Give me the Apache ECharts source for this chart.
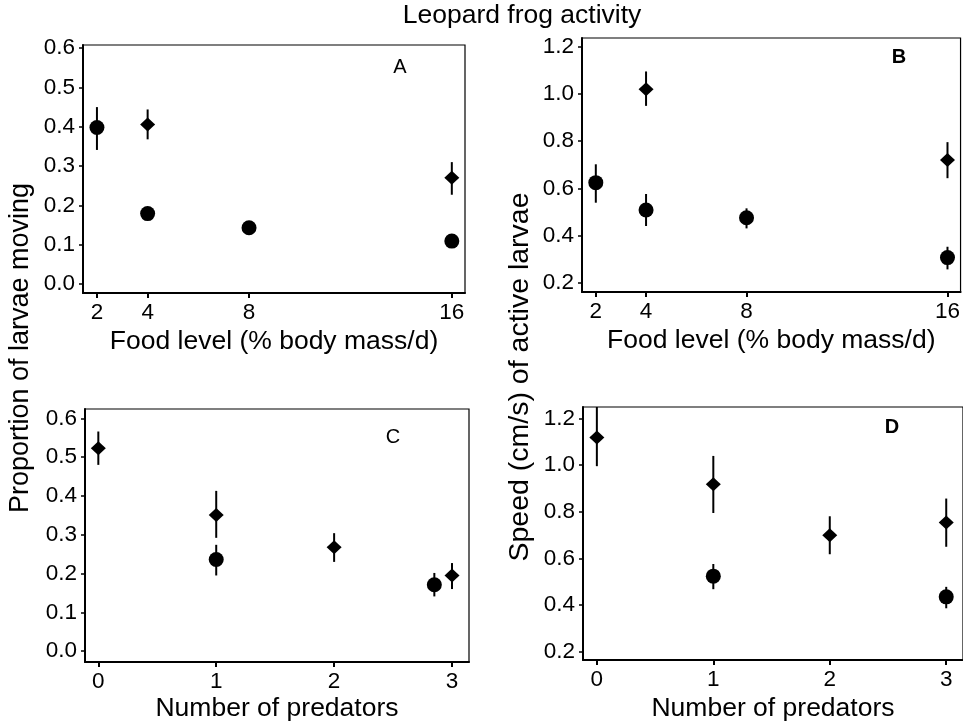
<!DOCTYPE html>
<html>
<head>
<meta charset="utf-8">
<script src="https://cdn.jsdelivr.net/npm/echarts@6/dist/echarts.min.js"></script>
<style>html,body{margin:0;padding:0;background:#fff}#chart{width:963px;height:723px}</style>
</head>
<body>
<div id="chart"></div>
<script>
// ---- Data ----
const foodTicks = [2, 4, 8, 16];
const predTicks = [0, 1, 2, 3];
const yTicksAC = [0, 0.1, 0.2, 0.3, 0.4, 0.5, 0.6];
const yTicksBD = [0.2, 0.4, 0.6, 0.8, 1.0, 1.2];

// Panel A: proportion of larvae moving vs food level
const A_circleX = [2, 4, 8, 16];
const A_circleY = [0.398, 0.179, 0.143, 0.109];
const A_circleLo = [0.341, 0.172, 0.137, 0.103];
const A_circleHi = [0.450, 0.186, 0.149, 0.115];
const A_diamondX = [4, 16];
const A_diamondY = [0.406, 0.270];
const A_diamondLo = [0.368, 0.227];
const A_diamondHi = [0.444, 0.310];

// Panel B: speed vs food level
const B_circleX = [2, 4, 8, 16];
const B_circleY = [0.624, 0.508, 0.475, 0.306];
const B_circleLo = [0.539, 0.440, 0.430, 0.256];
const B_circleHi = [0.702, 0.576, 0.515, 0.352];
const B_diamondX = [4, 16];
const B_diamondY = [1.021, 0.720];
const B_diamondLo = [0.950, 0.643];
const B_diamondHi = [1.096, 0.796];

// Panel C: proportion moving vs number of predators
const C_circleX = [1, 2.85];
const C_circleY = [0.236, 0.171];
const C_circleLo = [0.195, 0.141];
const C_circleHi = [0.274, 0.2015];
const C_diamondX = [0, 1, 2, 3];
const C_diamondY = [0.523, 0.351, 0.268, 0.195];
const C_diamondLo = [0.480, 0.292, 0.230, 0.160];
const C_diamondHi = [0.566, 0.413, 0.304, 0.227];

// Panel D: speed vs number of predators
const D_circleX = [1, 3];
const D_circleY = [0.524, 0.435];
const D_circleLo = [0.468, 0.386];
const D_circleHi = [0.576, 0.478];
const D_diamondX = [0, 1, 2, 3];
const D_diamondY = [1.119, 0.918, 0.700, 0.754];
const D_diamondLo = [0.996, 0.795, 0.618, 0.650];
const D_diamondHi = [1.250, 1.040, 0.781, 0.857];

const titleText = 'Leopard frog activity';
const yNameLeft = 'Proportion of larvae moving';
const yNameRight = 'Speed (cm/s) of active larvae';
const xNameFood = 'Food level (% body mass/d)';
const xNamePred = 'Number of predators';
const panelLetters = ['A', 'B', 'C', 'D'];

// ---- Build ----
const FONT = '"Liberation Sans", Arial, sans-serif';
const pts = (xs, ys) => xs.map((x, i) => [x, ys[i]]);
const errs = (xs, lo, hi) => xs.map((x, i) => [x, lo[i], hi[i]]);

const grids = [
  {left: 83, top: 45, width: 382, height: 248},
  {left: 582, top: 38, width: 381, height: 254},
  {left: 85, top: 409, width: 384, height: 254},
  {left: 583, top: 407, width: 385, height: 253}
].map(g => Object.assign(g, {show: true, borderColor: '#000', borderWidth: 1.2, containLabel: false}));

function xAxis(gi, min, max, ticks, name, gap) {
  return {
    gridIndex: gi, type: 'value', min: min, max: max,
    name: name, nameLocation: 'middle', nameGap: gap,
    nameTextStyle: {fontFamily: FONT, fontSize: 26.5, color: '#000'},
    axisLine: {show: true, onZero: false, lineStyle: {color: '#000', width: 2}},
    axisTick: {show: true, length: 5, customValues: ticks, lineStyle: {color: '#000', width: 2}},
    axisLabel: {customValues: ticks, margin: 8, fontFamily: FONT, fontSize: 22.5, color: '#000'},
    splitLine: {show: false}
  };
}
function yAxis(gi, min, max, ticks) {
  return {
    gridIndex: gi, type: 'value', min: min, max: max,
    axisLine: {show: true, onZero: false, lineStyle: {color: '#000', width: 2}},
    axisTick: {show: true, length: 4, customValues: ticks, lineStyle: {color: '#000', width: 1.5}},
    axisLabel: {customValues: ticks, margin: 8, fontFamily: FONT, fontSize: 22.5, color: '#000',
      formatter: v => v.toFixed(1)},
    splitLine: {show: false}
  };
}

function errSeries(i, data) {
  return {
    type: 'custom', xAxisIndex: i, yAxisIndex: i, data: data, z: 2, silent: true,
    renderItem: function (params, api) {
      const p1 = api.coord([api.value(0), api.value(1)]);
      const p2 = api.coord([api.value(0), api.value(2)]);
      return {type: 'line', shape: {x1: p1[0], y1: p1[1], x2: p2[0], y2: p2[1]},
        style: {stroke: '#000', lineWidth: 2}};
    }
  };
}
function scat(i, data, sym) {
  return {
    type: 'scatter', xAxisIndex: i, yAxisIndex: i, data: data, z: 3, silent: true,
    symbol: sym, symbolSize: sym === 'circle' ? 15 : [15, 14],
    itemStyle: {color: '#000', opacity: 1}
  };
}

const option = {
  backgroundColor: '#fff',
  animation: false,
  grid: grids,
  xAxis: [
    xAxis(0, 1.45, 16.52, foodTicks, xNameFood, 35),
    xAxis(1, 1.45, 16.52, foodTicks, xNameFood, 35),
    xAxis(2, -0.113, 3.144, predTicks, xNamePred, 33),
    xAxis(3, -0.119, 3.144, predTicks, xNamePred, 35)
  ],
  yAxis: [
    yAxis(0, -0.023, 0.608, yTicksAC),
    yAxis(1, 0.16, 1.238, yTicksBD),
    yAxis(2, -0.028, 0.624, yTicksAC),
    yAxis(3, 0.164, 1.25, yTicksBD)
  ],
  series: [
    errSeries(0, errs(A_circleX, A_circleLo, A_circleHi)),
    errSeries(0, errs(A_diamondX, A_diamondLo, A_diamondHi)),
    scat(0, pts(A_circleX, A_circleY), 'circle'),
    scat(0, pts(A_diamondX, A_diamondY), 'diamond'),
    errSeries(1, errs(B_circleX, B_circleLo, B_circleHi)),
    errSeries(1, errs(B_diamondX, B_diamondLo, B_diamondHi)),
    scat(1, pts(B_circleX, B_circleY), 'circle'),
    scat(1, pts(B_diamondX, B_diamondY), 'diamond'),
    errSeries(2, errs(C_circleX, C_circleLo, C_circleHi)),
    errSeries(2, errs(C_diamondX, C_diamondLo, C_diamondHi)),
    scat(2, pts(C_circleX, C_circleY), 'circle'),
    scat(2, pts(C_diamondX, C_diamondY), 'diamond'),
    errSeries(3, errs(D_circleX, D_circleLo, D_circleHi)),
    errSeries(3, errs(D_diamondX, D_diamondLo, D_diamondHi)),
    scat(3, pts(D_circleX, D_circleY), 'circle'),
    scat(3, pts(D_diamondX, D_diamondY), 'diamond')
  ],
  graphic: [
    {type: 'text', x: 522, y: 16, style: {text: titleText, font: '26.5px ' + FONT, fill: '#000', align: 'center', verticalAlign: 'middle'}},
    {type: 'text', x: 21, y: 348, rotation: Math.PI / 2, style: {text: yNameLeft, font: '27px ' + FONT, fill: '#000', align: 'center', verticalAlign: 'middle'}},
    {type: 'text', x: 520, y: 377, rotation: Math.PI / 2, style: {text: yNameRight, font: '28.5px ' + FONT, fill: '#000', align: 'center', verticalAlign: 'middle'}},
    {type: 'text', x: 400, y: 67, style: {text: panelLetters[0], font: '20px ' + FONT, fill: '#000', align: 'center', verticalAlign: 'middle'}},
    {type: 'text', x: 899, y: 57, style: {text: panelLetters[1], font: 'bold 20px ' + FONT, fill: '#000', align: 'center', verticalAlign: 'middle'}},
    {type: 'text', x: 393, y: 437, style: {text: panelLetters[2], font: '20px ' + FONT, fill: '#000', align: 'center', verticalAlign: 'middle'}},
    {type: 'text', x: 892, y: 427, style: {text: panelLetters[3], font: 'bold 20px ' + FONT, fill: '#000', align: 'center', verticalAlign: 'middle'}}
  ]
};

const chart = echarts.init(document.getElementById('chart'), null, {renderer: 'canvas'});
chart.setOption(option);
</script>
</body>
</html>
